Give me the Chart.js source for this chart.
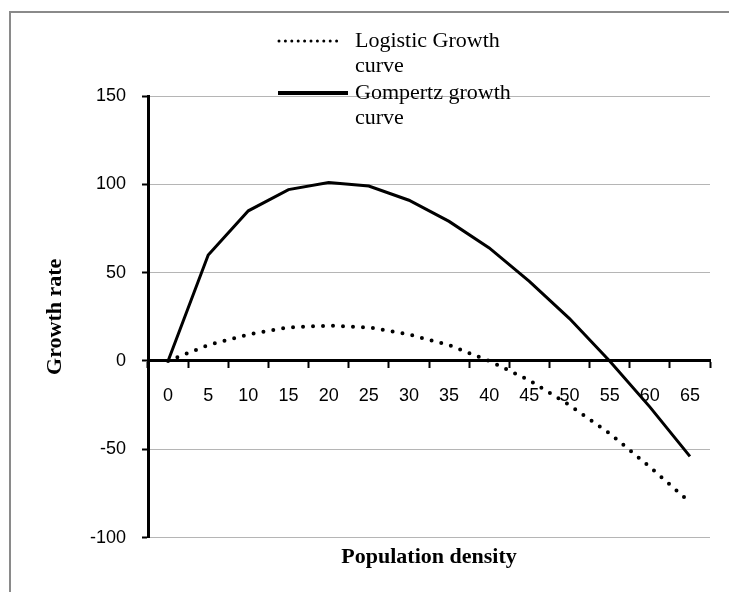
<!DOCTYPE html>
<html>
<head>
<meta charset="utf-8">
<script src="https://cdn.jsdelivr.net/npm/chart.js@4.4.1/dist/chart.umd.min.js"></script>
<style>
  html, body { margin: 0; padding: 0; background: #fff; }
  #wrap { width: 729px; height: 592px; }
</style>
</head>
<body>
<div id="wrap"><canvas id="growthChart" width="729" height="592"></canvas></div>
<script>
// Chart data
const densities = ['0', '5', '10', '15', '20', '25', '30', '35', '40', '45', '50', '55', '60', '65'];
const logisticRates = [0, 9, 15, 19, 20, 19, 15, 9, 0, -11, -25, -41, -60, -80];
const gompertzRates = [0, 60, 85, 97, 101, 99, 91, 79, 64, 45, 24, 0, -26, -54];
const yTicks = [-100, -50, 0, 50, 100, 150];
const legendLines = [['Logistic Growth', 'curve'], ['Gompertz growth', 'curve']];
const xTitle = 'Population density';
const yTitle = 'Growth rate';

Chart.defaults.font.family = '"Liberation Sans", Arial, sans-serif';

// Grey frame on the left and top edges
const framePlugin = {
    id: 'frame',
    beforeDraw(chart) {
        const ctx = chart.ctx;
        ctx.save();
        ctx.fillStyle = '#fff';
        ctx.fillRect(0, 0, chart.width, chart.height);
        ctx.strokeStyle = '#8a8a8a';
        ctx.lineWidth = 2;
        ctx.beginPath();
        ctx.moveTo(10, chart.height);
        ctx.lineTo(10, 12);
        ctx.lineTo(chart.width, 12);
        ctx.stroke();
        ctx.restore();
    }
};

// Legend drawn inside the plot, like the original
const legendPlugin = {
    id: 'insideLegend',
    afterDraw(chart) {
        const ctx = chart.ctx;
        ctx.save();
        ctx.font = '22px "Liberation Serif", "Times New Roman", serif';
        ctx.fillStyle = '#000';
        ctx.strokeStyle = '#000';
        chart.data.datasets.forEach((ds, i) => {
            const y = 41 + i * 52;
            ctx.beginPath();
            if (i === 0) {
                ctx.setLineDash([0, 6.4]);
                ctx.lineCap = 'round';
                ctx.lineWidth = 3;
                ctx.moveTo(279, y);
                ctx.lineTo(343, y);
            } else {
                ctx.setLineDash([]);
                ctx.lineCap = 'butt';
                ctx.lineWidth = 4;
                ctx.moveTo(278, y);
                ctx.lineTo(348, y);
            }
            ctx.stroke();
            legendLines[i].forEach((t, j) => {
                ctx.fillText(t, 355, y + 6 + j * 25);
            });
        });
        ctx.restore();
    }
};

new Chart(document.getElementById('growthChart'), {
    type: 'line',
    data: {
        labels: densities,
        datasets: [
            {
                label: 'Logistic Growth curve',
                data: logisticRates,
                borderColor: '#000',
                borderWidth: 4,
                borderDash: [0, 10],
                borderCapStyle: 'round',
                pointRadius: 0,
                tension: 0,
                fill: false
            },
            {
                label: 'Gompertz growth curve',
                data: gompertzRates,
                borderColor: '#000',
                borderWidth: 3,
                pointRadius: 0,
                tension: 0,
                fill: false
            }
        ]
    },
    options: {
        responsive: false,
        devicePixelRatio: 1,
        animation: false,
        layout: { padding: { left: 40, right: 19, top: 96, bottom: 21 } },
        plugins: {
            legend: { display: false },
            tooltip: { enabled: false },
            title: {
                display: true,
                position: 'bottom',
                fullSize: false,
                text: xTitle,
                color: '#000',
                font: { family: '"Liberation Serif", "Times New Roman", serif', size: 22, weight: 'bold' },
                padding: { top: 7, bottom: 0 }
            }
        },
        scales: {
            x: {
                type: 'category',
                position: { y: 0 },
                offset: true,
                grid: {
                    offset: true,
                    drawOnChartArea: false,
                    drawTicks: true,
                    tickLength: 6,
                    tickColor: '#000',
                    tickWidth: 2
                },
                border: { display: true, color: '#000', width: 3 },
                ticks: {
                    color: '#000',
                    font: { size: 18 },
                    padding: 18,
                    maxRotation: 0,
                    autoSkip: false
                }
            },
            y: {
                min: -100,
                max: 150,
                afterBuildTicks: axis => {
                    axis.ticks = yTicks.map(v => ({ value: v }));
                },
                afterFit: scale => {
                    scale.width = 108;
                },
                grid: {
                    color: '#b5b5b5',
                    lineWidth: 1,
                    tickColor: '#000',
                    tickLength: 6,
                    tickWidth: 2
                },
                border: { display: true, color: '#000', width: 3 },
                ticks: {
                    color: '#000',
                    font: { size: 18 },
                    padding: 16
                },
                title: {
                    display: true,
                    text: yTitle,
                    color: '#000',
                    font: { family: '"Liberation Serif", "Times New Roman", serif', size: 22, weight: 'bold' },
                    padding: { top: 2, bottom: 0 }
                }
            }
        }
    },
    plugins: [framePlugin, legendPlugin]
});
</script>
</body>
</html>
